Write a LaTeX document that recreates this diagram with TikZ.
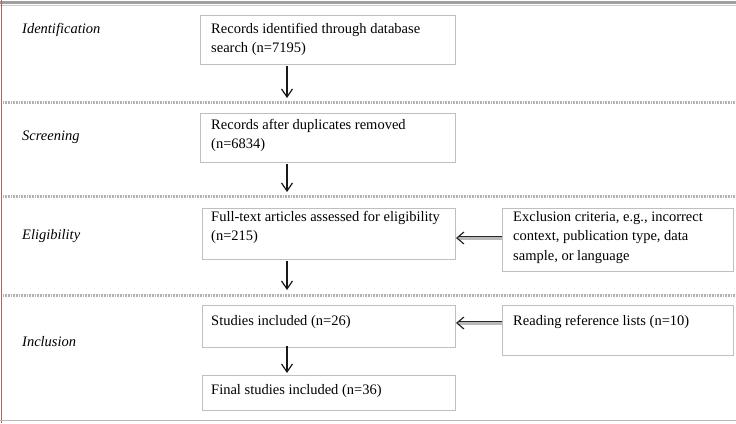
\documentclass[tikz,border=0pt]{standalone}
\usepackage{fontspec}
\setmainfont{Liberation Serif}
\usetikzlibrary{arrows.meta}
\definecolor{frameRed}{RGB}{185,95,95}
\begin{document}
\begin{tikzpicture}[x=1pt,y=-1pt,
  box/.style={draw=gray!50, line width=0.8pt, inner sep=0pt},
  txt/.style={font=\fontsize{14.5}{19.5}\selectfont, align=left, anchor=north west, inner sep=0pt},
  lab/.style={font=\fontsize{14.5}{16}\selectfont\itshape, anchor=west, inner sep=0pt},
  darr/.style={-{Straight Barb[length=8pt,width=11pt,line width=1.2pt]}, line width=1.1pt, black!90},
  dbl/.style={double=gray!55, double distance=3pt, line width=0.7pt, black!85, -{Straight Barb[length=7pt,width=12pt,line width=1.2pt]}},
  sep/.style={draw=gray!60, line width=3pt, dash pattern=on 0.8pt off 0.8pt}
]
\useasboundingbox (0,0) rectangle (736,423);
\fill[white] (0,0) rectangle (736,423);
% frame
\draw[gray!75, line width=3pt] (0,2) -- (736,2);
\draw[gray!40, line width=1pt] (0,5) -- (736,5);
\draw[frameRed, line width=1pt] (1,0) -- (1,423);
\draw[gray!55, line width=1.2pt] (0,420.5) -- (736,420.5);
% separators
\draw[sep] (3,102) -- (736,102);
\draw[sep] (3,196) -- (736,196);
\draw[sep] (3,295) -- (736,295);
% labels
\node[lab] (l1) at (22,30) {Identification};
\node[lab] (l2) at (22,137) {Screening};
\node[lab] (l3) at (22,236) {Eligibility};
\node[lab] (l4) at (22,342) {Inclusion};
% boxes
\draw[box] (200,15) rectangle (455,64);
\node[txt] (b1) at (211,23) {Records identified through database\\search (n=7195)};
\coordinate (b1s) at (287,66);
\draw[box] (200,113) rectangle (455,162);
\node[txt] (b2) at (211,119) {Records after duplicates removed\\(n=6834)};
\coordinate (b2n) at (287,98);
\coordinate (b2s) at (287,164);
\draw[box] (202,208) rectangle (455,259);
\node[txt] (b3) at (211,211) {Full-text articles assessed for eligibility\\(n=215)};
\coordinate (b3n) at (287,192);
\coordinate (b3e) at (456,238);
\coordinate (b3s) at (287,261);
\draw[box] (502,208) rectangle (733,271);
\node[txt] (b4) at (513,211) {Exclusion criteria, e.g., incorrect\\context, publication type, data\\sample, or language};
\coordinate (b4w) at (502,238);
\draw[box] (202,305) rectangle (455,347);
\node[txt] (b5) at (211,315) {Studies included (n=26)};
\coordinate (b5n) at (287,290);
\coordinate (b5e) at (456,323);
\coordinate (b5s) at (287,346);
\draw[box] (502,305) rectangle (733,355);
\node[txt] (b6) at (513,315) {Reading reference lists (n=10)};
\coordinate (b6w) at (502,323);
\draw[box] (202,375) rectangle (455,410);
\node[txt] (b7) at (211,384) {Final studies included (n=36)};
\coordinate (b7n) at (287,373);
% arrows
\draw[darr] (b1s) -- (b2n);
\draw[darr] (b2s) -- (b3n);
\draw[darr] (b3s) -- (b5n);
\draw[darr] (b5s) -- (b7n);
\draw[dbl] (b4w) -- (b3e);
\draw[dbl] (b6w) -- (b5e);
\end{tikzpicture}
\end{document}
